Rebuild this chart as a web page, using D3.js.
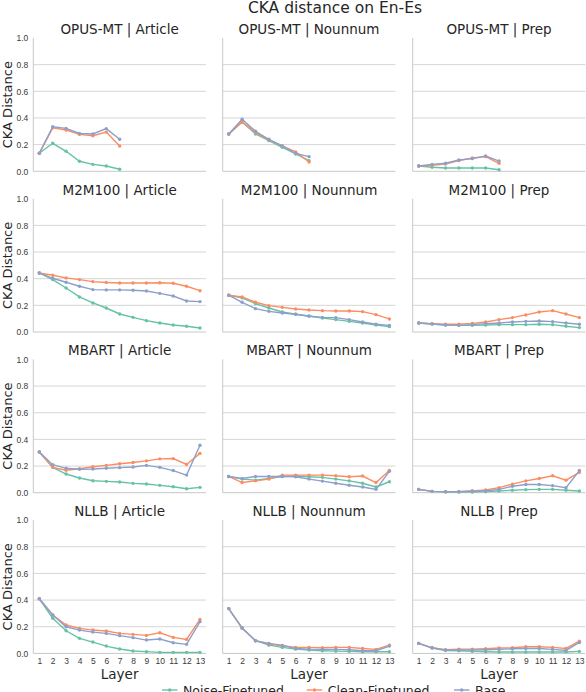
<!DOCTYPE html>
<html>
<head>
<meta charset="utf-8">
<script src="https://cdn.jsdelivr.net/npm/d3@7"></script>
<style>
  html, body { margin: 0; padding: 0; background: #fff; }
  svg { display: block; font-family: "DejaVu Sans", sans-serif; }
  .tick-label { fill: #3a3a3a; font-size: 8.5px; }
  .panel-title { fill: #262626; font-size: 13.5px; }
  .axis-label { fill: #262626; font-size: 13.5px; }
  .legend-text { fill: #262626; font-size: 12.5px; }
</style>
</head>
<body>
<svg id="chart" width="586" height="692"></svg>
<script>
var MODELS = ["OPUS-MT", "M2M100", "MBART", "NLLB"];
var CATEGORIES = ["Article", "Nounnum", "Prep"];
var SERIES = ["Noise-Finetuned", "Clean-Finetuned", "Base"];
var COLORS = ["#66c2a5", "#fc8d62", "#8da0cb"];
var Y_TICKS = [0, 0.2, 0.4, 0.6, 0.8, 1.0];
var X_TICKS = [1, 2, 3, 4, 5, 6, 7, 8, 9, 10, 11, 12, 13];

// OPUS-MT (7 layers)
var opusArticleNoise = [0.135, 0.21, 0.15, 0.075, 0.052, 0.04, 0.015];
var opusArticleClean = [0.135, 0.326, 0.31, 0.277, 0.267, 0.294, 0.19];
var opusArticleBase = [0.135, 0.334, 0.322, 0.284, 0.28, 0.32, 0.24];
var opusNounnumNoise = [0.28, 0.37, 0.28, 0.23, 0.18, 0.13, 0.08];
var opusNounnumClean = [0.28, 0.37, 0.29, 0.235, 0.19, 0.145, 0.07];
var opusNounnumBase = [0.28, 0.39, 0.30, 0.24, 0.19, 0.135, 0.11];
var opusPrepNoise = [0.04, 0.03, 0.025, 0.025, 0.025, 0.025, 0.012];
var opusPrepClean = [0.04, 0.045, 0.055, 0.08, 0.1, 0.11, 0.06];
var opusPrepBase = [0.04, 0.052, 0.06, 0.085, 0.095, 0.115, 0.077];

// M2M100
var m2mArticleNoise = [0.443, 0.393, 0.33, 0.263, 0.218, 0.18, 0.135, 0.11, 0.085, 0.068, 0.053, 0.043, 0.03];
var m2mArticleClean = [0.443, 0.426, 0.406, 0.393, 0.378, 0.371, 0.368, 0.368, 0.368, 0.37, 0.366, 0.343, 0.31];
var m2mArticleBase = [0.443, 0.403, 0.373, 0.343, 0.318, 0.316, 0.316, 0.313, 0.308, 0.29, 0.27, 0.233, 0.228];
var m2mNounnumNoise = [0.276, 0.256, 0.213, 0.18, 0.15, 0.133, 0.12, 0.105, 0.093, 0.08, 0.068, 0.053, 0.04];
var m2mNounnumClean = [0.276, 0.263, 0.223, 0.198, 0.185, 0.173, 0.165, 0.16, 0.158, 0.158, 0.153, 0.13, 0.098];
var m2mNounnumBase = [0.276, 0.223, 0.175, 0.155, 0.143, 0.133, 0.118, 0.11, 0.108, 0.093, 0.075, 0.058, 0.05];
var m2mPrepNoise = [0.068, 0.06, 0.053, 0.05, 0.05, 0.053, 0.055, 0.055, 0.055, 0.058, 0.055, 0.043, 0.033];
var m2mPrepClean = [0.068, 0.063, 0.058, 0.058, 0.065, 0.075, 0.093, 0.108, 0.128, 0.15, 0.16, 0.135, 0.108];
var m2mPrepBase = [0.068, 0.06, 0.053, 0.05, 0.055, 0.063, 0.068, 0.075, 0.08, 0.083, 0.078, 0.068, 0.058];

// MBART
var mbartArticleNoise = [0.305, 0.19, 0.14, 0.11, 0.09, 0.085, 0.08, 0.07, 0.065, 0.055, 0.045, 0.03, 0.04];
var mbartArticleClean = [0.305, 0.19, 0.168, 0.18, 0.195, 0.205, 0.217, 0.227, 0.239, 0.254, 0.256, 0.212, 0.295];
var mbartArticleBase = [0.305, 0.21, 0.183, 0.176, 0.178, 0.183, 0.188, 0.193, 0.205, 0.19, 0.166, 0.132, 0.356];
var mbartNounnumNoise = [0.122, 0.102, 0.094, 0.107, 0.122, 0.125, 0.12, 0.115, 0.102, 0.089, 0.071, 0.043, 0.082];
var mbartNounnumClean = [0.122, 0.076, 0.089, 0.102, 0.132, 0.132, 0.132, 0.132, 0.127, 0.12, 0.125, 0.076, 0.166];
var mbartNounnumBase = [0.122, 0.107, 0.122, 0.122, 0.122, 0.12, 0.102, 0.087, 0.071, 0.056, 0.043, 0.025, 0.16];
var mbartPrepNoise = [0.025, 0.01, 0.005, 0.005, 0.005, 0.008, 0.013, 0.018, 0.023, 0.025, 0.025, 0.018, 0.013];
var mbartPrepClean = [0.025, 0.01, 0.008, 0.008, 0.013, 0.02, 0.038, 0.064, 0.089, 0.107, 0.127, 0.094, 0.153];
var mbartPrepBase = [0.025, 0.01, 0.008, 0.008, 0.013, 0.013, 0.025, 0.048, 0.061, 0.061, 0.053, 0.038, 0.166];

// NLLB
var nllbArticleNoise = [0.41, 0.263, 0.17, 0.113, 0.085, 0.055, 0.033, 0.018, 0.013, 0.008, 0.008, 0.008, 0.008];
var nllbArticleClean = [0.41, 0.288, 0.213, 0.188, 0.175, 0.168, 0.15, 0.143, 0.135, 0.155, 0.12, 0.105, 0.255];
var nllbArticleBase = [0.41, 0.288, 0.2, 0.175, 0.16, 0.15, 0.133, 0.118, 0.1, 0.108, 0.08, 0.068, 0.238];
var nllbNounnumNoise = [0.336, 0.19, 0.095, 0.062, 0.045, 0.032, 0.025, 0.02, 0.017, 0.015, 0.012, 0.012, 0.012];
var nllbNounnumClean = [0.336, 0.19, 0.095, 0.07, 0.057, 0.045, 0.045, 0.042, 0.045, 0.045, 0.037, 0.03, 0.062];
var nllbNounnumBase = [0.336, 0.19, 0.095, 0.075, 0.06, 0.037, 0.032, 0.03, 0.03, 0.027, 0.02, 0.02, 0.055];
var nllbPrepNoise = [0.075, 0.04, 0.022, 0.02, 0.015, 0.012, 0.01, 0.01, 0.01, 0.01, 0.01, 0.01, 0.015];
var nllbPrepClean = [0.075, 0.042, 0.027, 0.032, 0.032, 0.035, 0.04, 0.042, 0.05, 0.05, 0.045, 0.037, 0.092];
var nllbPrepBase = [0.075, 0.042, 0.025, 0.025, 0.025, 0.027, 0.03, 0.035, 0.037, 0.037, 0.03, 0.022, 0.082];

var PANEL_DATA = [
    [[opusArticleNoise, opusArticleClean, opusArticleBase],
     [opusNounnumNoise, opusNounnumClean, opusNounnumBase],
     [opusPrepNoise, opusPrepClean, opusPrepBase]],
    [[m2mArticleNoise, m2mArticleClean, m2mArticleBase],
     [m2mNounnumNoise, m2mNounnumClean, m2mNounnumBase],
     [m2mPrepNoise, m2mPrepClean, m2mPrepBase]],
    [[mbartArticleNoise, mbartArticleClean, mbartArticleBase],
     [mbartNounnumNoise, mbartNounnumClean, mbartNounnumBase],
     [mbartPrepNoise, mbartPrepClean, mbartPrepBase]],
    [[nllbArticleNoise, nllbArticleClean, nllbArticleBase],
     [nllbNounnumNoise, nllbNounnumClean, nllbNounnumBase],
     [nllbPrepNoise, nllbPrepClean, nllbPrepBase]]
];

var COL_LEFT = [33.3, 222.7, 412.7];
var PANEL_W = 172.7;
var ROW_TOP = 38;
var ROW_PITCH = 160.7;
var PANEL_H = 133.3;

var svg = d3.select("#chart");

svg.append("text").attr("class", "panel-title")
    .attr("x", 335).attr("y", 13)
    .attr("text-anchor", "middle")
    .style("font-size", "15.5px")
    .text("CKA distance on En-Es");

function drawPanel(row, col) {
    var left = COL_LEFT[col];
    var top = ROW_TOP + row * ROW_PITCH;
    var g = svg.append("g").attr("transform", "translate(" + left + "," + top + ")");

    var xScale = d3.scaleLinear().domain([0.55, 13.45]).range([0, PANEL_W]);
    var yScale = d3.scaleLinear().domain([0, 1]).range([PANEL_H, 0]);

    // grid
    g.selectAll(".grid").data(Y_TICKS.slice(1, 5)).enter()
        .append("line").attr("class", "grid")
        .attr("x1", 0).attr("x2", PANEL_W)
        .attr("y1", (d) => yScale(d)).attr("y2", (d) => yScale(d))
        .attr("stroke", "#d6d6d6").attr("stroke-width", 1);

    // spines
    g.append("line").attr("x1", 0).attr("x2", 0)
        .attr("y1", yScale(0)).attr("y2", yScale(1))
        .attr("stroke", "#c8c8c8").attr("stroke-width", 1);
    g.append("line").attr("x1", 0).attr("x2", PANEL_W)
        .attr("y1", yScale(0)).attr("y2", yScale(0))
        .attr("stroke", "#c8c8c8").attr("stroke-width", 1);

    g.append("text").attr("class", "panel-title")
        .attr("x", PANEL_W / 2).attr("y", -4)
        .attr("text-anchor", "middle")
        .text(MODELS[row] + " | " + CATEGORIES[col]);

    if (col === 0) {
        var yAxis = d3.axisLeft(yScale).tickValues(Y_TICKS)
            .tickFormat(d3.format(".1f")).tickSize(0).tickPadding(5);
        var ya = g.append("g").call(yAxis);
        ya.select(".domain").remove();
        ya.selectAll("text").attr("class", "tick-label").attr("fill", null);

        g.append("text").attr("class", "axis-label")
            .attr("transform", "translate(" + (-21.5) + "," + (PANEL_H / 2) + ") rotate(-90)")
            .attr("text-anchor", "middle")
            .style("font-size", "13px")
            .text("CKA Distance");
    }

    if (row === MODELS.length - 1) {
        var xAxis = d3.axisBottom(xScale).tickValues(X_TICKS)
            .tickFormat(d3.format("d")).tickSize(0).tickPadding(5);
        var xa = g.append("g").attr("transform", "translate(0," + PANEL_H + ")").call(xAxis);
        xa.select(".domain").remove();
        xa.selectAll("text").attr("class", "tick-label").attr("fill", null);

        g.append("text").attr("class", "axis-label")
            .attr("x", PANEL_W / 2).attr("y", PANEL_H + 25.5)
            .attr("text-anchor", "middle")
            .text("Layer");
    }

    var line = d3.line()
        .x((d, i) => xScale(i + 1))
        .y((d) => yScale(d));

    PANEL_DATA[row][col].forEach(function (values, s) {
        g.append("path").datum(values)
            .attr("d", line)
            .attr("fill", "none")
            .attr("stroke", COLORS[s])
            .attr("stroke-width", 1.4);
        g.selectAll(".pt-" + s).data(values).enter()
            .append("circle").attr("class", "pt-" + s)
            .attr("cx", (d, i) => xScale(i + 1))
            .attr("cy", (d) => yScale(d))
            .attr("r", 1.7)
            .attr("fill", COLORS[s]);
    });
}

for (var r = 0; r < MODELS.length; r++) {
    for (var c = 0; c < CATEGORIES.length; c++) {
        drawPanel(r, c);
    }
}

// legend
var LEGEND_X = [162, 306.7, 454];
var legend = svg.append("g").attr("transform", "translate(0,690)");
SERIES.forEach(function (name, i) {
    var item = legend.append("g").attr("transform", "translate(" + LEGEND_X[i] + ",0)");
    item.append("line").attr("x1", 0).attr("x2", 15.5).attr("y1", 0).attr("y2", 0)
        .attr("stroke", COLORS[i]).attr("stroke-width", 1.4);
    item.append("circle").attr("cx", 7.75).attr("cy", 0).attr("r", 1.7).attr("fill", COLORS[i]);
    item.append("text").attr("class", "legend-text")
        .attr("x", 21).attr("y", 4.5)
        .text(name);
});
</script>
</body>
</html>
